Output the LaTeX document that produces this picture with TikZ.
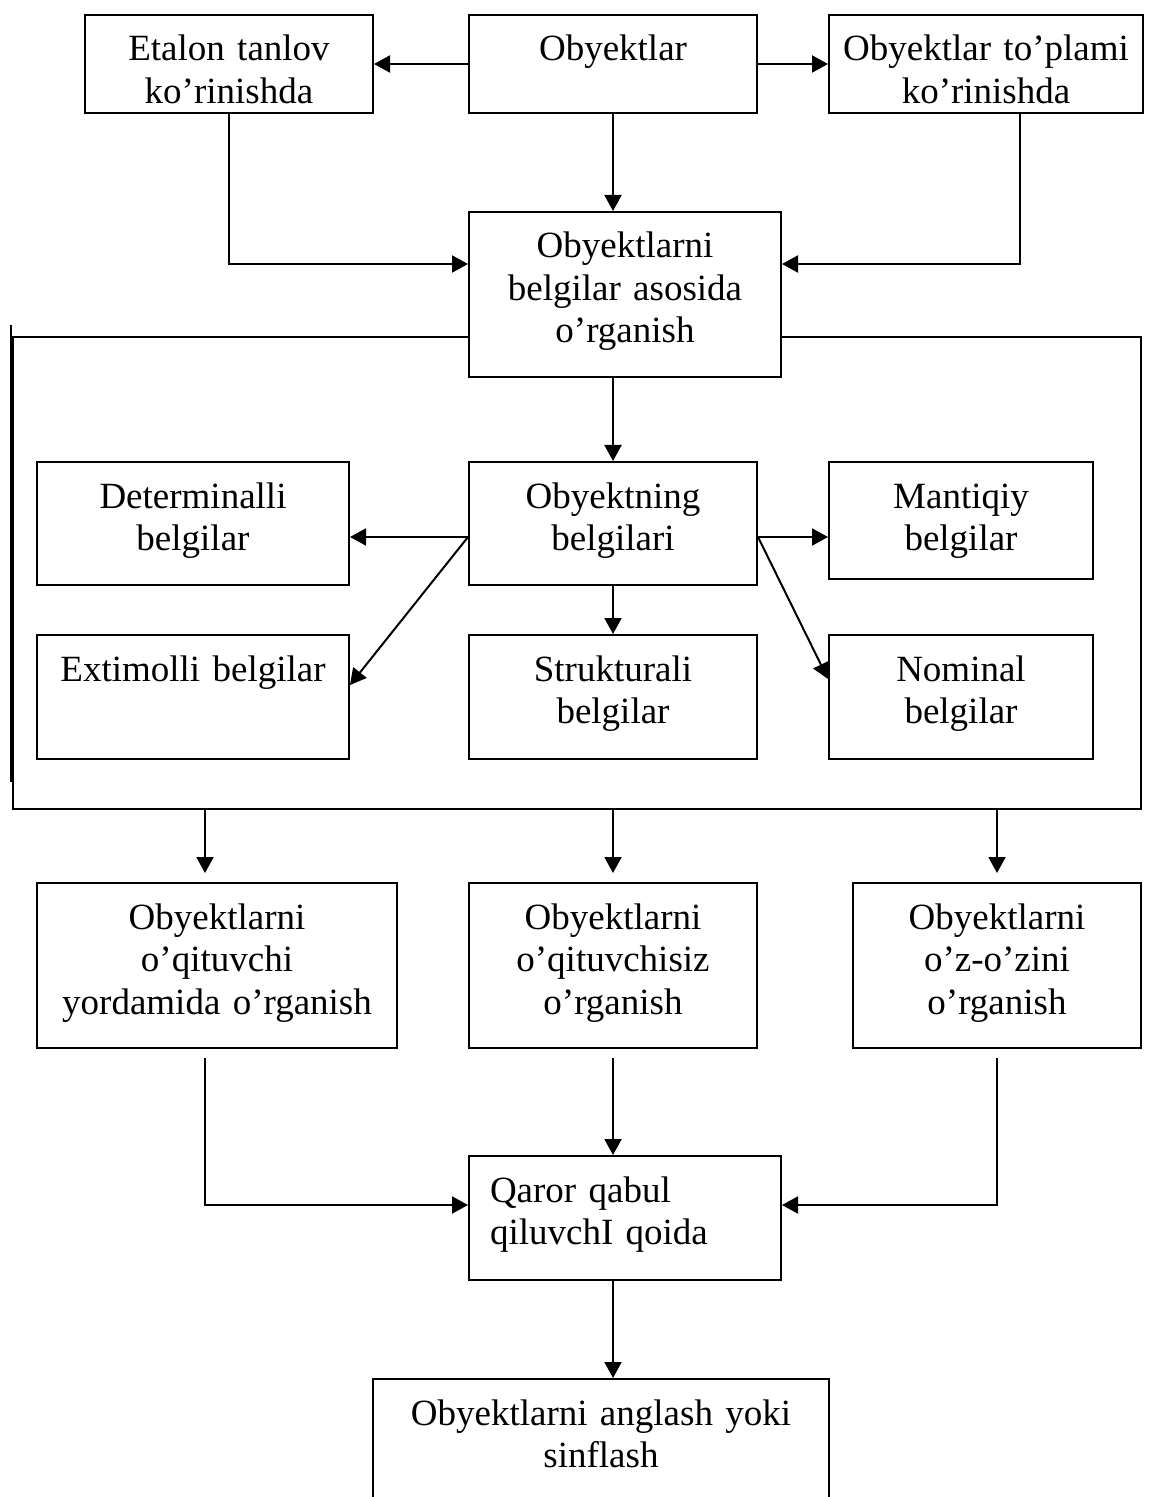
\documentclass[tikz,border=0pt]{standalone}
\usepackage{fontspec}
\setmainfont{Liberation Serif}
\usetikzlibrary{positioning,arrows.meta}

\tikzset{
  blok/.style={draw, line width=1pt, inner sep=0pt, text height=23pt, align=center,
    minimum width=#1, text width=#1, font=\fontsize{18.5}{21.25}\selectfont},
  strelka/.style={line width=1pt, -{Triangle[length=8pt,width=8.5pt]}},
  liniya/.style={line width=1pt}
}

\begin{document}
\begin{tikzpicture}[x=0.5pt, y=-0.5pt]
\clip (0,0) rectangle (1157,1497);

% --- frame round the features ---
\coordinate (ramNW) at (12.5,337);
\coordinate (ramSE) at (1141,809);
\draw[liniya] (ramNW) rectangle (ramSE);
\draw[liniya] (10.5,325) -- (10.5,782);

% --- top row ---
\node[blok=144pt, text depth=26pt] (etalon) at (229,64) {Etalon tanlov\\ko’rinishda};
\node[blok=144pt, text depth=26pt] (obyekt) at (613,64) {Obyektlar};
\node[blok=157pt, text depth=26pt] (toplam) at (986,64) {Obyektlar to’plami\\ko’rinishda};
\node[blok=156pt, fill=white, text depth=59.5pt] (asos) at (625,294.5)
     {Obyektlarni\\belgilar asosida\\o’rganish};

\draw[strelka] (obyekt.west) -- (etalon.east);
\draw[strelka] (obyekt.east) -- (toplam.west);
\draw[strelka] (obyekt.south) -- (obyekt.south |- asos.north);
\draw[strelka] (etalon.south) |- ([yshift=15.25pt]asos.west);
\draw[strelka] ([xshift=17pt]toplam.south) |- ([yshift=15.25pt]asos.east);

% --- features ---
\node[blok=144pt, text depth=38.5pt] (belgi) at (613,523.5) {Obyektning\\belgilari};
\node[blok=156pt, text depth=38.5pt] (determ) at (193,523.5) {Determinalli\\belgilar};
\node[blok=132pt, text depth=35.5pt] (mantiq) at (961,520.5) {Mantiqiy\\belgilar};
\node[blok=156pt, text depth=39pt] (extim) at (193,697) {Extimolli belgilar};
\node[blok=144pt, text depth=39pt] (strukt) at (613,697) {Strukturali\\belgilar};
\node[blok=132pt, text depth=39pt] (nomin) at (961,697) {Nominal\\belgilar};

\draw[strelka] (belgi.north |- asos.south) -- (belgi.north);
\draw[strelka] ([yshift=-6.75pt]belgi.west) -- ([yshift=-6.75pt]belgi.west -| determ.east);
\draw[strelka] ([yshift=-6.75pt]belgi.west) -- ([yshift=6pt]extim.east);
\draw[strelka] ([yshift=-6.75pt]belgi.east) -- ([yshift=-6.75pt]belgi.east -| mantiq.west);
\draw[strelka] ([yshift=-6.75pt]belgi.east) -- ([yshift=9pt]nomin.west);
\draw[strelka] (belgi.south) -- (strukt.north);

% --- learning ---
\node[blok=180pt, text depth=59.5pt] (oqitl) at (217,965.5)
     {Obyektlarni\\o’qituvchi\\yordamida o’rganish};
\node[blok=144pt, text depth=59.5pt] (oqitsiz) at (613,965.5)
     {Obyektlarni\\o’qituvchisiz\\o’rganish};
\node[blok=144pt, text depth=59.5pt] (ozozi) at (997,965.5)
     {Obyektlarni\\o’z-o’zini\\o’rganish};

\draw[strelka, shorten >=4.5pt] ([xshift=-6pt]oqitl.north |- ramSE) -- ([xshift=-6pt]oqitl.north);
\draw[strelka, shorten >=4.5pt] (oqitsiz.north |- ramSE) -- (oqitsiz.north);
\draw[strelka, shorten >=4.5pt] (ozozi.north |- ramSE) -- (ozozi.north);

% --- decision ---
\node[blok=156pt, align=left, text width=135pt, text depth=39pt] (qaror) at (625,1218)
     {Qaror qabul\\qiluvchI qoida};
\node[blok=228pt, text depth=47.5pt] (angla) at (601,1449.5)
     {Obyektlarni anglash yoki\\sinflash};

\draw[strelka, shorten <=4.5pt] ([xshift=-6pt]oqitl.south) |- ([yshift=6.5pt]qaror.west);
\draw[strelka, shorten <=4.5pt] (oqitsiz.south) -- (oqitsiz.south |- qaror.north);
\draw[strelka, shorten <=4.5pt] (ozozi.south) |- ([yshift=6.5pt]qaror.east);
\draw[strelka] (oqitsiz.south |- qaror.south) -- (oqitsiz.south |- angla.north);

\end{tikzpicture}
\end{document}
